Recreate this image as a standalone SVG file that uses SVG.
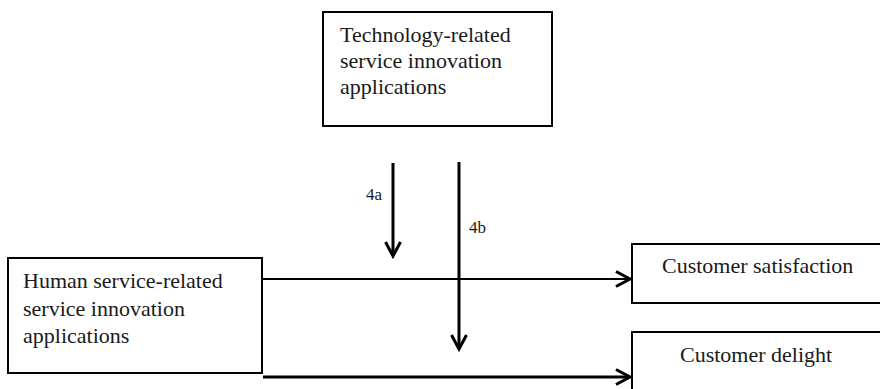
<svg xmlns="http://www.w3.org/2000/svg" width="880" height="389" viewBox="0 0 880 389">
<defs>
<style>
.box{fill:#fff;stroke:#000;stroke-width:2}
.t{font-family:"Liberation Serif","Times New Roman",serif;font-size:22px;fill:#1a1a1a}
.lbl{font-family:"Liberation Serif","Times New Roman",serif;font-size:17px;fill:#1a1a1a}
.c{fill:none;stroke:#000}
</style>
<marker id="ah" markerUnits="userSpaceOnUse" markerWidth="20" markerHeight="20" viewBox="-16 -10 20 20" refX="0" refY="0" orient="auto">
<path d="M-14,-7.5 L0,0 L-14,7.5" fill="none" stroke="#000" stroke-width="3"/>
</marker>
</defs>
<rect width="880" height="389" fill="#fff"/>
<g id="tech">
<rect class="box" x="323" y="12" width="229" height="114"/>
<text class="t" x="340" y="42">Technology-related</text>
<text class="t" x="340" y="68">service innovation</text>
<text class="t" x="340" y="94">applications</text>
</g>
<g id="human">
<rect class="box" x="8" y="258" width="254" height="115"/>
<text class="t" x="23" y="288">Human service-related</text>
<text class="t" x="23" y="316">service innovation</text>
<text class="t" x="23" y="343">applications</text>
</g>
<g id="satisfaction">
<path class="box" d="M882,244 H632 V303 H882"/>
<text class="t" x="662" y="273">Customer satisfaction</text>
</g>
<g id="delight">
<path class="box" d="M882,332 H632 V392"/>
<text class="t" x="680" y="362">Customer delight</text>
</g>
<g id="connectors">
<line class="c" x1="262" y1="279" x2="630" y2="279" stroke-width="2" marker-end="url(#ah)"/>
<line class="c" x1="263" y1="377" x2="630" y2="377" stroke-width="3" marker-end="url(#ah)"/>
<line class="c" x1="393" y1="163" x2="393" y2="256" stroke-width="3" marker-end="url(#ah)"/>
<line class="c" x1="459" y1="162" x2="459" y2="349" stroke-width="3" marker-end="url(#ah)"/>
<text class="lbl" x="366" y="200">4a</text>
<text class="lbl" x="469" y="233">4b</text>
</g>
</svg>
